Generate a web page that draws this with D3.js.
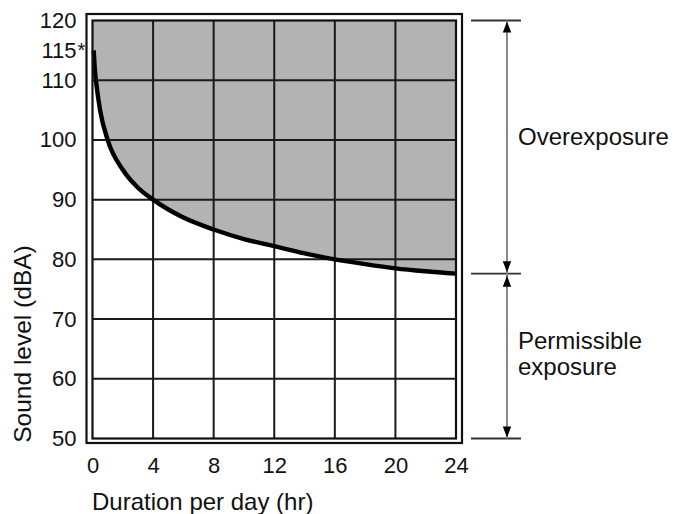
<!DOCTYPE html>
<html>
<head>
<meta charset="utf-8">
<script src="https://cdn.jsdelivr.net/npm/d3@7"></script>
<style>
  html, body { margin: 0; padding: 0; background: #fff; }
  svg { display: block; }
  text { font-family: "Liberation Sans", Arial, Helvetica, sans-serif; fill: #111; }
</style>
</head>
<body>
<svg id="chart" width="674" height="514"></svg>
<script>
// ---- data ----
const hours = [0.08, 0.15, 0.25, 0.5, 1, 2, 3, 4, 6, 8, 10, 12, 14, 16, 18, 20, 22, 24];
const dBA   = [115, 112, 109.5, 105, 100, 95, 92, 90, 87, 85, 83.4, 82.2, 81, 80, 79.2, 78.5, 78, 77.6];
const xTicks = [0, 4, 8, 12, 16, 20, 24];
const yTicks = [50, 60, 70, 80, 90, 100, 110, 120, 115];
const markedTick = 115;
const zoneBounds = [120, 77.6, 50];
const zoneLabels = [["Overexposure"], ["Permissible", "exposure"]];
const xTitle = "Duration per day (hr)";
const yTitle = "Sound level (dBA)";

const svg = d3.select("#chart");
const x = d3.scaleLinear().domain([0, 24]).range([92.5, 456]);
const y = d3.scaleLinear().domain([50, 120]).range([438.5, 20.5]);

const pts = hours.map((h, i) => ({h, v: dBA[i]}));

// shaded overexposure area
const areaPts = [{h: 0, v: dBA[0]}].concat(pts);
svg.append("path")
  .datum(areaPts)
  .attr("fill", "#b3b3b3")
  .attr("d", d3.area().x(d => x(d.h)).y0(y(120)).y1(d => y(d.v)).curve(d3.curveMonotoneX));

// grid
const g = svg.append("g").attr("stroke", "#1a1a1a").attr("stroke-width", 2);
g.selectAll(".vx").data(xTicks.slice(1, -1)).join("line")
  .attr("x1", d => x(d)).attr("x2", d => x(d)).attr("y1", y(120)).attr("y2", y(50));
g.selectAll(".hy").data([60, 70, 80, 90, 100, 110]).join("line")
  .attr("x1", x(0)).attr("x2", x(24)).attr("y1", d => y(d)).attr("y2", d => y(d));

// curve
svg.append("path")
  .datum(pts)
  .attr("fill", "none").attr("stroke", "#000").attr("stroke-width", 4.4)
  .attr("d", d3.line().x(d => x(d.h)).y(d => y(d.v)).curve(d3.curveMonotoneX));

// frames
svg.append("rect")
  .attr("x", x(0)).attr("y", y(120)).attr("width", x(24) - x(0)).attr("height", y(50) - y(120))
  .attr("fill", "none").attr("stroke", "#111").attr("stroke-width", 2.2);
svg.append("rect")
  .attr("x", x(0) - 6).attr("y", y(120) - 6.5).attr("width", x(24) - x(0) + 12).attr("height", y(50) - y(120) + 11)
  .attr("fill", "none").attr("stroke", "#111").attr("stroke-width", 2.2);

// axes
const yAxis = svg.append("g").attr("transform", `translate(${x(0)},0)`)
  .call(d3.axisLeft(y).tickValues(yTicks).tickSize(0).tickPadding(16).tickFormat(d3.format("d")));
yAxis.select(".domain").remove();
yAxis.selectAll("text").style("font-size", "22px").attr("fill", "#111")
  .style("font-family", '"Liberation Sans", Arial, sans-serif');
svg.append("text").attr("x", x(0) - 15).attr("y", y(markedTick) + 7)
  .style("font-size", "20px").text("*");

const xAxis = svg.append("g").attr("transform", `translate(0,${y(50)})`)
  .call(d3.axisBottom(x).tickValues(xTicks).tickSize(0).tickPadding(18.5).tickFormat(d3.format("d")));
xAxis.select(".domain").remove();
xAxis.selectAll("text").style("font-size", "22px").attr("fill", "#111")
  .style("font-family", '"Liberation Sans", Arial, sans-serif');

// titles
svg.append("text").attr("x", 92).attr("y", 510).style("font-size", "24px").text(xTitle);
svg.append("text").attr("transform", "translate(31,344) rotate(-90)")
  .attr("text-anchor", "middle").style("font-size", "24.5px").text(yTitle);

// right bracket annotation
const bx = 507;
const br = svg.append("g");
br.selectAll("line.tk").data(zoneBounds).join("line")
  .attr("x1", 471).attr("x2", 521).attr("y1", d => y(d)).attr("y2", d => y(d))
  .attr("stroke", "#333").attr("stroke-width", 1.8);
br.append("line").attr("x1", bx).attr("x2", bx).attr("y1", y(zoneBounds[0])).attr("y2", y(zoneBounds[2]))
  .attr("stroke", "#888").attr("stroke-width", 2);
function arrow(tipY, dir) { // dir -1 = up, 1 = down
  const h = 11, w = 4.2;
  return `M${bx},${tipY} L${bx - w},${tipY - dir * h} L${bx + w},${tipY - dir * h} Z`;
}
const arrows = [
  [y(zoneBounds[0]) + 1, -1],
  [y(zoneBounds[1]) - 1.5, 1],
  [y(zoneBounds[1]) + 2, -1],
  [y(zoneBounds[2]) - 1, 1]
];
br.selectAll("path").data(arrows).join("path").attr("d", d => arrow(d[0], d[1])).attr("fill", "#000");

svg.append("text").attr("x", 518).attr("y", 144.5).style("font-size", "24px").text(zoneLabels[0][0]);
const perm = svg.append("text").attr("x", 518).attr("y", 349).style("font-size", "24px");
zoneLabels[1].forEach((t, i) => perm.append("tspan").attr("x", 518).attr("dy", i ? 26 : 0).text(t));
</script>
</body>
</html>
